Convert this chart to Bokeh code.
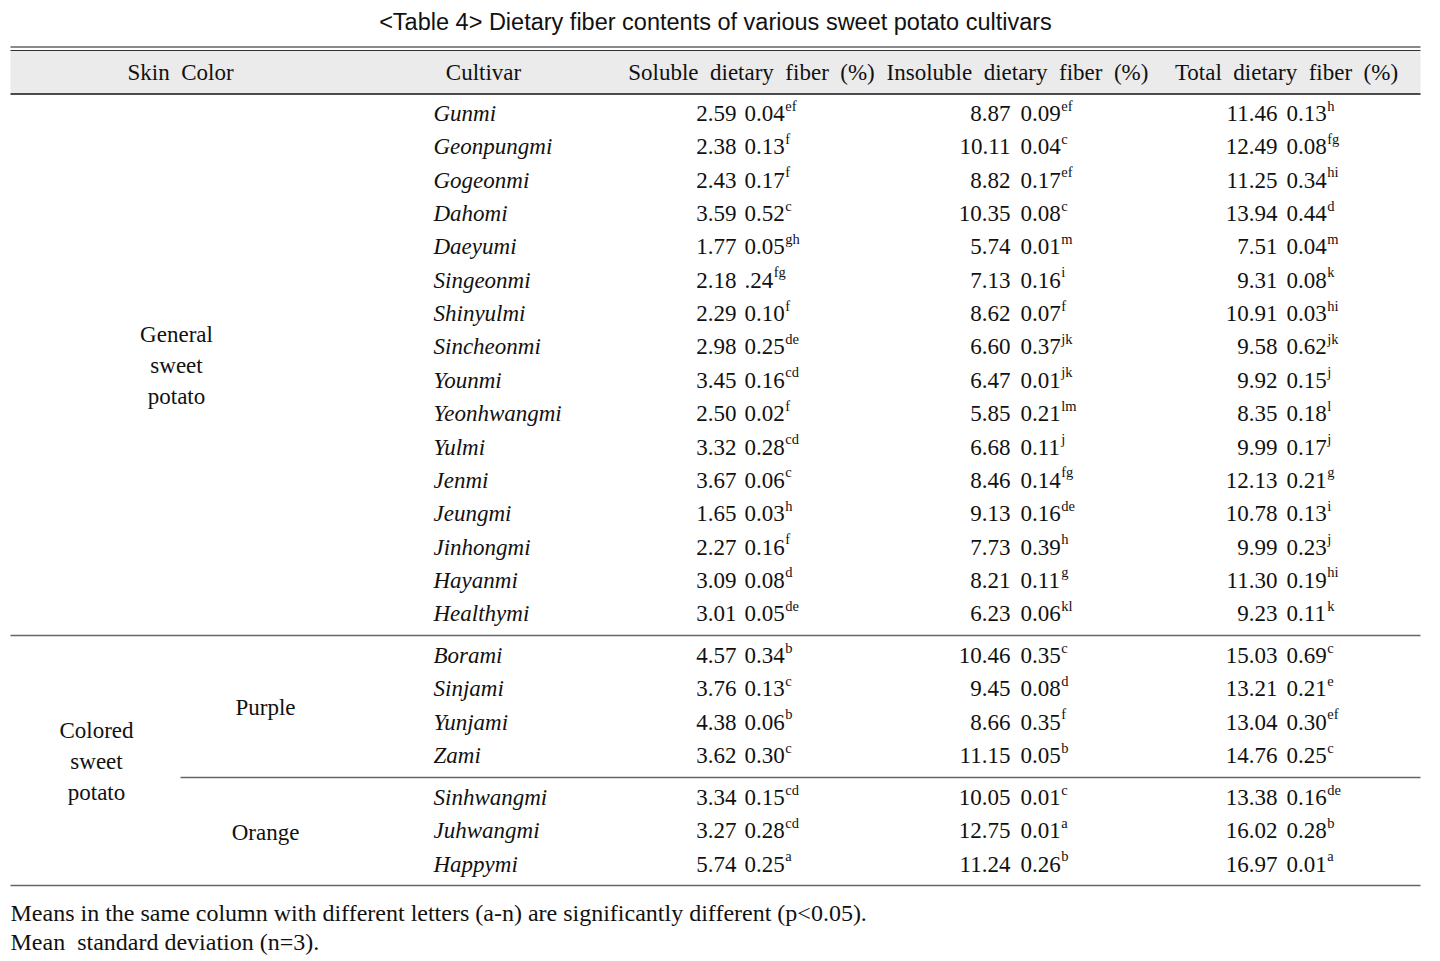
from bokeh.plotting import figure
from bokeh.models import Range1d
from bokeh.embed import file_html
from bokeh.resources import INLINE
from bokeh.core.properties import value

# ---------------- data ----------------
NB = "\u00a0"
title = "<Table 4> Dietary fiber contents of various sweet potato cultivars"
headers = ["Skin" + NB + " Color", "Cultivar", "Soluble" + NB + " dietary" + NB + " fiber" + NB + " (%)",
           "Insoluble" + NB + " dietary" + NB + " fiber" + NB + " (%)",
           "Total" + NB + " dietary" + NB + " fiber" + NB + " (%)"]

cultivars = ["Gunmi", "Geonpungmi", "Gogeonmi", "Dahomi", "Daeyumi", "Singeonmi",
             "Shinyulmi", "Sincheonmi", "Younmi", "Yeonhwangmi", "Yulmi", "Jenmi",
             "Jeungmi", "Jinhongmi", "Hayanmi", "Healthymi",
             "Borami", "Sinjami", "Yunjami", "Zami",
             "Sinhwangmi", "Juhwangmi", "Happymi"]
groups = ["general"] * 16 + ["purple"] * 4 + ["orange"] * 3

sol_mean = ["2.59", "2.38", "2.43", "3.59", "1.77", "2.18", "2.29", "2.98", "3.45", "2.50",
            "3.32", "3.67", "1.65", "2.27", "3.09", "3.01",
            "4.57", "3.76", "4.38", "3.62", "3.34", "3.27", "5.74"]
sol_sd = ["0.04", "0.13", "0.17", "0.52", "0.05", ".24", "0.10", "0.25", "0.16", "0.02",
          "0.28", "0.06", "0.03", "0.16", "0.08", "0.05",
          "0.34", "0.13", "0.06", "0.30", "0.15", "0.28", "0.25"]
sol_sup = ["ef", "f", "f", "c", "gh", "fg", "f", "de", "cd", "f", "cd", "c", "h", "f", "d", "de",
           "b", "c", "b", "c", "cd", "cd", "a"]

ins_mean = ["8.87", "10.11", "8.82", "10.35", "5.74", "7.13", "8.62", "6.60", "6.47", "5.85",
            "6.68", "8.46", "9.13", "7.73", "8.21", "6.23",
            "10.46", "9.45", "8.66", "11.15", "10.05", "12.75", "11.24"]
ins_sd = ["0.09", "0.04", "0.17", "0.08", "0.01", "0.16", "0.07", "0.37", "0.01", "0.21",
          "0.11", "0.14", "0.16", "0.39", "0.11", "0.06",
          "0.35", "0.08", "0.35", "0.05", "0.01", "0.01", "0.26"]
ins_sup = ["ef", "c", "ef", "c", "m", "i", "f", "jk", "jk", "lm", "j", "fg", "de", "h", "g", "kl",
           "c", "d", "f", "b", "c", "a", "b"]

tot_mean = ["11.46", "12.49", "11.25", "13.94", "7.51", "9.31", "10.91", "9.58", "9.92", "8.35",
            "9.99", "12.13", "10.78", "9.99", "11.30", "9.23",
            "15.03", "13.21", "13.04", "14.76", "13.38", "16.02", "16.97"]
tot_sd = ["0.13", "0.08", "0.34", "0.44", "0.04", "0.08", "0.03", "0.62", "0.15", "0.18",
          "0.17", "0.21", "0.13", "0.23", "0.19", "0.11",
          "0.69", "0.21", "0.30", "0.25", "0.16", "0.28", "0.01"]
tot_sup = ["h", "fg", "hi", "d", "m", "k", "hi", "jk", "j", "l", "j", "g", "i", "j", "hi", "k",
           "c", "e", "ef", "c", "de", "b", "a"]

footnotes = ["Means in the same column with different letters (a-n) are significantly different (p<0.05).",
             "Mean " + NB + "standard deviation (n=3)."]

# ---------------- layout ----------------
W, H = 1424, 958
p = figure(width=W, height=H, output_backend="svg", toolbar_location=None,
           x_range=Range1d(0, W), y_range=Range1d(H, 0),
           min_border=0)
p.axis.visible = False
p.grid.visible = False
p.outline_line_color = None
p.background_fill_color = "white"

SERIF = value("Liberation Serif")
EM = 23.0
FS = "23px"
SUPFS = "14.5px"
INK = "#111111"

LEFT, RIGHT = 10, 1420

# header band and rules
p.quad(left=[LEFT], right=[RIGHT], top=[50], bottom=[93], fill_color="#ebebeb", line_color=None)
p.segment(x0=[LEFT], y0=[46.5], x1=[RIGHT], y1=[46.5], line_color="#8a8a8a", line_width=2)
p.segment(x0=[LEFT], y0=[50], x1=[RIGHT], y1=[50], line_color="#333333", line_width=1.2)
p.segment(x0=[LEFT], y0=[93.5], x1=[RIGHT], y1=[93.5], line_color="#111111", line_width=1.5)
p.segment(x0=[LEFT], y0=[635], x1=[RIGHT], y1=[635], line_color="#666666", line_width=1.5)
p.segment(x0=[180], y0=[777], x1=[RIGHT], y1=[777], line_color="#666666", line_width=1.5)
p.segment(x0=[LEFT], y0=[885], x1=[RIGHT], y1=[885], line_color="#666666", line_width=1.5)

# title
p.text(x=[715], y=[21], text=[title], text_font=value("Liberation Sans"), text_font_size="23.5px",
       text_align="center", text_baseline="middle", text_color=INK)

# headers
hx = [180, 483, 751, 1017, 1286]
p.text(x=hx, y=[72] * 5, text=headers, text_font=SERIF, text_font_size=FS,
       text_align="center", text_baseline="middle", text_color=INK)

# row positions
ys = []
start = {"general": 113, "purple": 655, "orange": 797}
count = {"general": 0, "purple": 0, "orange": 0}
for g in groups:
    ys.append(start[g] + 33.35 * count[g])
    count[g] += 1

# cultivar names
p.text(x=[433] * len(cultivars), y=ys, text=cultivars, text_font=SERIF, text_font_size=FS,
       text_font_style="italic", text_align="left", text_baseline="middle", text_color=INK)


def width_of(s, em=EM):
    w = 0.0
    for ch in s:
        w += 0.25 * em if ch == "." else 0.5 * em
    return w


def draw_col(means, sds, sups, mean_right, sd_left):
    p.text(x=[mean_right] * len(means), y=ys, text=means, text_font=SERIF, text_font_size=FS,
           text_align="right", text_baseline="middle", text_color=INK)
    p.text(x=[sd_left] * len(sds), y=ys, text=sds, text_font=SERIF, text_font_size=FS,
           text_align="left", text_baseline="middle", text_color=INK)
    sx = [sd_left + width_of(s) + 0.5 for s in sds]
    sy = [y - 8 for y in ys]
    p.text(x=sx, y=sy, text=sups, text_font=SERIF, text_font_size=SUPFS,
           text_align="left", text_baseline="middle", text_color=INK)


draw_col(sol_mean, sol_sd, sol_sup, 736, 744)
draw_col(ins_mean, ins_sd, ins_sup, 1010, 1020)
draw_col(tot_mean, tot_sd, tot_sup, 1277, 1286)

# group labels
p.text(x=[176] * 3, y=[334, 365, 396], text=["General", "sweet", "potato"], text_font=SERIF,
       text_font_size=FS, text_align="center", text_baseline="middle", text_color=INK)
p.text(x=[96] * 3, y=[730, 761, 792], text=["Colored", "sweet", "potato"], text_font=SERIF,
       text_font_size=FS, text_align="center", text_baseline="middle", text_color=INK)
p.text(x=[265, 265], y=[707, 832], text=["Purple", "Orange"], text_font=SERIF,
       text_font_size=FS, text_align="center", text_baseline="middle", text_color=INK)

# footnotes
p.text(x=[10, 10], y=[912, 941], text=footnotes, text_font=SERIF, text_font_size="24px",
       text_align="left", text_baseline="middle", text_color=INK)

open("out.html", "w").write(file_html(p, INLINE))
